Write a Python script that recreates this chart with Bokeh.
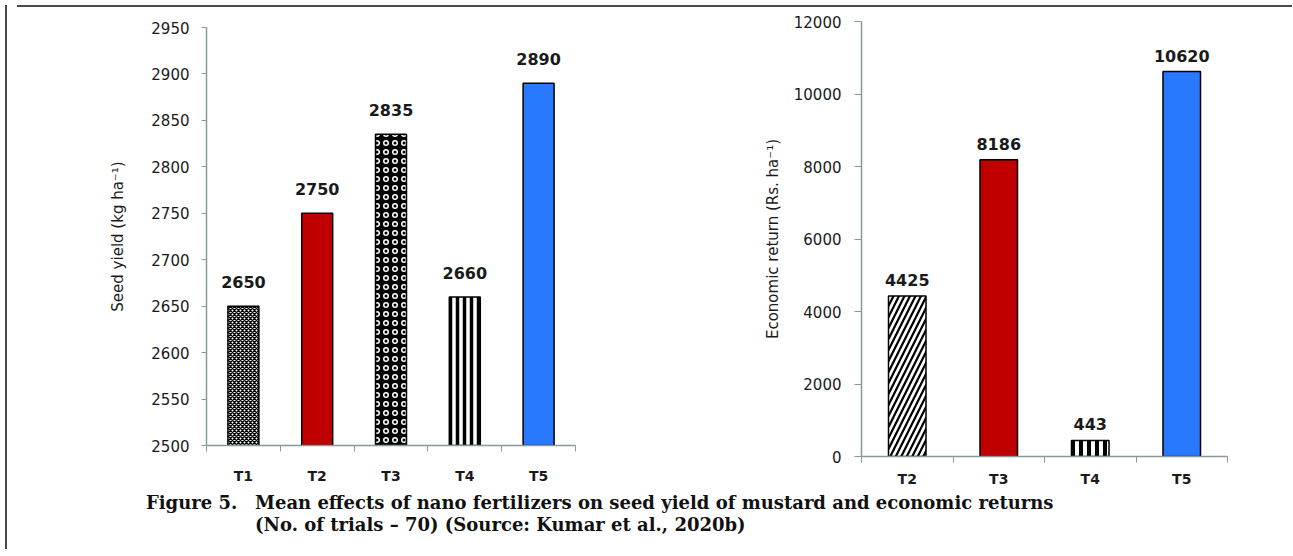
from bokeh.plotting import figure
from bokeh.models import Range1d, FixedTicker, Div, ColumnDataSource
from bokeh.layouts import row, column
from bokeh.embed import file_html
from bokeh.resources import INLINE
from bokeh.core.properties import value

# ---------------- data ----------------
yield_cats = ["T1", "T2", "T3", "T4", "T5"]
yield_vals = [2650, 2750, 2835, 2660, 2890]
yield_ticks = [2500, 2550, 2600, 2650, 2700, 2750, 2800, 2850, 2900, 2950]

return_cats = ["T2", "T3", "T4", "T5"]
return_vals = [4425, 8186, 443, 10620]
return_ticks = [0, 2000, 4000, 6000, 8000, 10000, 12000]

yield_title = "Seed yield (kg ha\u207b\u00b9)"
return_title = "Economic return (Rs. ha\u207b\u00b9)"
caption_1a = "Figure 5."
caption_1b = "Mean effects of nano fertilizers on seed yield of mustard and economic returns"
caption_2 = "(No. of trials \u2013 70) (Source: Kumar et al., 2020b)"

# style per treatment (fill, hatch, hatch colour, hatch scale, hatch weight)
STYLE = {
    "T1": ("white", "diagonal_cross", "black", 4.0, 1.4),
    "T2": ("#c00000", " ", "black", 1.0, 1.0),
    "T3": ("black", "ring", "white", 9.0, 1.5),
    "T4": ("white", "vertical_line", "black", 7.0, 3.5),
    "T5": ("#2979ff", " ", "black", 1.0, 1.0),
}
STYLE_R = dict(STYLE)
STYLE_R["T2"] = ("white", "right_diagonal_line", "black", 11.0, 2.2)
STYLE_R["T3"] = ("#c00000", " ", "black", 1.0, 1.0)
STYLE_R["T4"] = ("white", "vertical_line", "black", 8.0, 4.0)

AXIS_COL = "#8a9898"
TXT = "#1a1a1a"


def make_chart(cats, vals, ticks, ymin, ymax, title, styles, W, H,
               bl, br, bt, bb, barw, xstand, ystand, tstand, lab_off, tick_len):
    n = len(cats)
    p = figure(width=W, height=H, output_backend="svg", toolbar_location=None,
               x_range=Range1d(0, n), y_range=Range1d(ymin, ymax),
               min_border_left=bl, min_border_right=br,
               min_border_top=bt, min_border_bottom=bb)
    p.frame_align = False
    p.outline_line_color = None
    p.xgrid.grid_line_color = None
    p.ygrid.grid_line_color = None
    p.background_fill_color = "white"
    p.border_fill_color = "white"

    xs = [i + 0.5 for i in range(n)]
    src = ColumnDataSource(dict(
        x=xs, top=vals, lab=[str(v) for v in vals],
        fill=[styles[c][0] for c in cats],
        hatch=[styles[c][1] for c in cats],
        hcol=[styles[c][2] for c in cats],
        hscale=[styles[c][3] for c in cats],
        hweight=[styles[c][4] for c in cats],
    ))
    p.vbar(x="x", top="top", bottom=ymin, width=barw, source=src,
           fill_color="fill", hatch_pattern="hatch", hatch_color="hcol",
           hatch_scale="hscale", hatch_weight="hweight",
           line_color="black", line_width=1.5)
    p.text(x="x", y="top", text="lab", source=src, text_align="center",
           text_baseline="bottom", y_offset=lab_off,
           text_font=value("DejaVu Sans"), text_font_style="bold",
           text_font_size="16px", text_color=TXT)

    # x axis: labels at centres, ticks at boundaries
    xa = p.xaxis[0]
    xa.ticker = FixedTicker(ticks=xs, minor_ticks=list(range(n + 1)))
    xa.major_label_overrides = {x: c for x, c in zip(xs, cats)}
    xa.major_tick_line_color = None
    xa.major_tick_out = 0
    xa.major_tick_in = 0
    xa.minor_tick_line_color = AXIS_COL
    xa.minor_tick_out = 6
    xa.minor_tick_in = 0
    xa.axis_line_color = AXIS_COL
    xa.axis_line_width = 1.5
    xa.major_label_standoff = xstand
    xa.major_label_text_font = "DejaVu Sans"
    xa.major_label_text_font_style = "bold"
    xa.major_label_text_font_size = "14px"
    xa.major_label_text_color = TXT

    ya = p.yaxis[0]
    ya.ticker = FixedTicker(ticks=ticks)
    ya.minor_tick_line_color = None
    ya.major_tick_line_color = AXIS_COL
    ya.major_tick_out = tick_len
    ya.major_tick_in = 0
    ya.axis_line_color = AXIS_COL
    ya.axis_line_width = 1.5
    ya.major_label_standoff = ystand
    ya.major_label_text_font = "DejaVu Sans"
    ya.major_label_text_font_size = "15px"
    ya.major_label_text_color = TXT
    ya.axis_label = title
    ya.axis_label_text_font = "DejaVu Sans"
    ya.axis_label_text_font_style = "normal"
    ya.axis_label_text_font_size = "15px"
    ya.axis_label_text_color = TXT
    ya.axis_label_standoff = tstand
    return p


p1 = make_chart(yield_cats, yield_vals, yield_ticks, 2500, 2950, yield_title,
                STYLE, W=640, H=479, bl=194, br=77, bt=15, bb=46, barw=0.42,
                xstand=16, ystand=12, tstand=21, lab_off=-18, tick_len=5)
p2 = make_chart(return_cats, return_vals, return_ticks, 0, 12000, return_title,
                STYLE_R, W=635, H=479, bl=209, br=60, bt=9, bb=35, barw=0.41,
                xstand=8, ystand=13, tstand=9, lab_off=-10, tick_len=7)

FRAME = "#4a4a4a"
vline = Div(text="", width=2, height=544, styles={"background-color": FRAME})
hline = Div(text="", width=1275, height=2, styles={"background-color": FRAME})

cap_style = ("font-family:'DejaVu Serif';font-weight:bold;font-size:18px;"
             "line-height:22px;color:#111;white-space:nowrap;"
             "position:relative;top:-4px;")
cap_html = (
    f"<div style=\"{cap_style}\">"
    f"<div style=\"margin-left:129px;\"><span style=\"display:inline-block;width:109px;\">{caption_1a}</span>{caption_1b}</div>"
    f"<div style=\"margin-left:238px;\">{caption_2}</div>"
    f"</div>"
)
caption = Div(text=cap_html, width=1275, height=60)

layout = row(vline, column(hline, row(p1, p2), caption))

open("out.html", "w").write(file_html(layout, INLINE))
